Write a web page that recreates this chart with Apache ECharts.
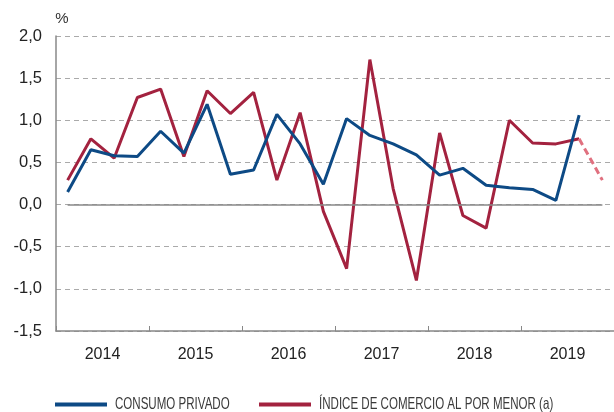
<!DOCTYPE html>
<html>
<head>
<meta charset="utf-8">
<script src="https://cdn.jsdelivr.net/npm/echarts@6/dist/echarts.min.js"></script>
<style>
  html, body { margin: 0; padding: 0; background: #fff; }
  #chart { width: 614px; height: 412px; }
</style>
</head>
<body>
<div id="chart"></div>
<script>
// Quarterly growth rates, 2014 Q1 – 2019 Q4 (%)
const years = ['2014', '2015', '2016', '2017', '2018', '2019'];
const quarters = [];
years.forEach(y => ['I', 'II', 'III', 'IV'].forEach(q => quarters.push(q + ' ' + y)));

const consumoPrivado = [0.15, 0.65, 0.58, 0.57, 0.87, 0.61, 1.19, 0.36, 0.41, 1.07, 0.72, 0.24,
                        1.02, 0.82, 0.72, 0.59, 0.35, 0.43, 0.23, 0.20, 0.18, 0.05, 1.06];
const comercioMenor = [0.29, 0.78, 0.55, 1.27, 1.37, 0.57, 1.35, 1.08, 1.33, 0.29, 1.09, -0.08,
                       -0.76, 1.72, 0.19, -0.90, 0.85, -0.13, -0.28, 1.00, 0.73, 0.72, 0.78];
// provisional last quarter, drawn dashed from the last observed value
const comercioMenorAvance = [null, null, null, null, null, null, null, null, null, null, null, null,
                             null, null, null, null, null, null, null, null, null, null, 0.78, 0.29];

const seriesNames = ['CONSUMO PRIVADO', 'ÍNDICE DE COMERCIO AL POR MENOR (a)'];
const yTicks = { min: -1.5, max: 2.0, step: 0.5 };

const BLUE = '#0d4a85';
const RED = '#a3223f';
const PINK = '#e0707f';

// Legend drawn as graphics so the labels can use a condensed look
function legendItem(x, color, label) {
  return {
    type: 'group',
    left: x,
    top: 396,
    children: [
      { type: 'rect', shape: { x: 0, y: 7, width: 52, height: 4 }, style: { fill: color } },
      {
        type: 'text', x: 60, y: 9, scaleX: 0.70,
        style: {
          text: label, fill: '#3a3a3a',
          font: '16.5px "Liberation Sans", Arial, sans-serif',
          textVerticalAlign: 'middle', verticalAlign: 'middle'
        }
      }
    ]
  };
}

const chart = echarts.init(document.getElementById('chart'));
chart.setOption({
  animation: false,
  textStyle: { fontFamily: 'Liberation Sans, Arial, sans-serif' },
  grid: { left: 56, top: 36, width: 560, height: 295 },
  graphic: [legendItem(55, BLUE, seriesNames[0]), legendItem(259, RED, seriesNames[1])],
  xAxis: [
    { type: 'category', data: quarters, boundaryGap: true, show: false },
    {
      type: 'category', data: years, boundaryGap: true, position: 'bottom',
      axisLine: { show: true, lineStyle: { color: '#888', width: 1.5 } },
      axisTick: { show: true, inside: true, length: 5, lineStyle: { color: '#888' } },
      axisLabel: { color: '#222', fontSize: 16, margin: 16 }
    }
  ],
  yAxis: {
    type: 'value',
    min: yTicks.min, max: yTicks.max, interval: yTicks.step,
    name: '%',
    nameLocation: 'end',
    nameGap: 10,
    nameTextStyle: { color: '#333', fontSize: 15, padding: [0, 0, 0, 12] },
    axisLine: { show: true, lineStyle: { color: '#888', width: 1.5 } },
    axisTick: { show: false },
    axisLabel: {
      color: '#222', fontSize: 16.5, margin: 14,
      formatter: v => v.toFixed(1).replace('.', ',')
    },
    splitLine: { show: true, lineStyle: { color: '#aaa', type: [5, 4], width: 1 } }
  },
  series: [
    {
      name: seriesNames[0], type: 'line', xAxisIndex: 0, data: consumoPrivado,
      symbol: 'none', lineStyle: { color: BLUE, width: 3 }, itemStyle: { color: BLUE }, z: 3
    },
    {
      name: seriesNames[1], type: 'line', xAxisIndex: 0, data: comercioMenor,
      symbol: 'none', lineStyle: { color: RED, width: 3 }, itemStyle: { color: RED }, z: 2,
      markLine: {
        silent: true, symbol: 'none', label: { show: false },
        lineStyle: { color: '#888', type: 'solid', width: 1.5 },
        data: [[{ coord: [0, 0] }, { coord: [23, 0] }]]
      }
    },
    {
      name: 'avance', type: 'line', xAxisIndex: 0, data: comercioMenorAvance,
      symbol: 'none', lineStyle: { color: PINK, width: 3, type: [7, 4] }, z: 2
    }
  ]
});
</script>
</body>
</html>
